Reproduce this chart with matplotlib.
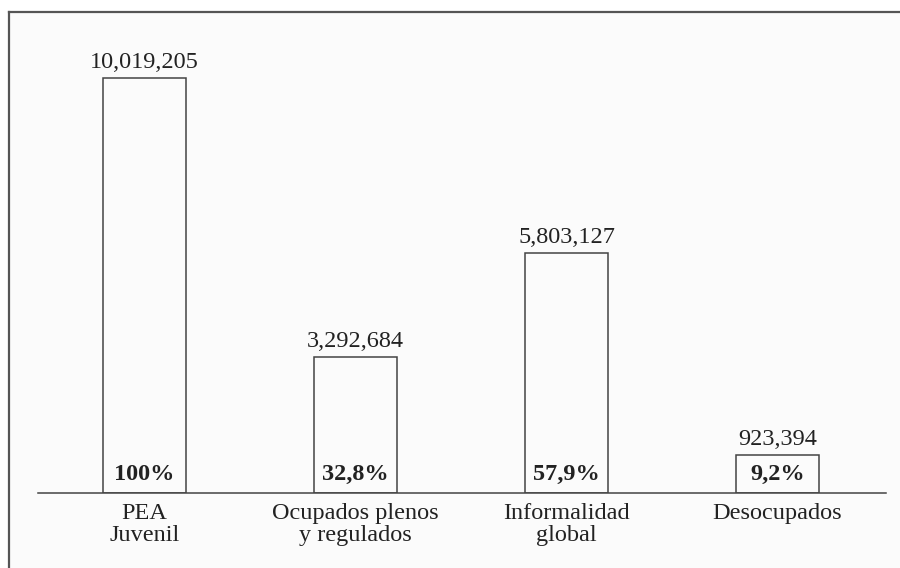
import matplotlib.pyplot as plt
from matplotlib.lines import Line2D
from matplotlib.patches import Rectangle

categorias = ["PEA\nJuvenil", "Ocupados plenos\ny regulados", "Informalidad\nglobal", "Desocupados"]
valores = [10019205, 3292684, 5803127, 923394]
porcentajes = ["100%", "32,8%", "57,9%", "9,2%"]

W, H = 900, 568
plt.rcParams['font.family'] = ['Liberation Serif', 'DejaVu Serif']

fig = plt.figure(figsize=(W / 100, H / 100), dpi=100)
fig.patch.set_facecolor('white')

# fondo gris muy claro y marco (solo arriba e izquierda, la imagen esta recortada)
fig.add_artist(Rectangle((9 / W, 0), 1 - 9 / W, 1 - 12 / H, transform=fig.transFigure,
                         facecolor='#fbfbfb', edgecolor='none', zorder=0))
fig.add_artist(Line2D([9 / W, 1], [1 - 12 / H, 1 - 12 / H], transform=fig.transFigure,
                      color='#555555', lw=1.6))
fig.add_artist(Line2D([9 / W, 9 / W], [0, 1 - 12 / H], transform=fig.transFigure,
                      color='#555555', lw=1.6))

ax = fig.add_axes([38 / W, 75 / H, (886 - 38) / W, (556 - 75) / H])
ax.set_facecolor('none')

x = range(len(categorias))
ax.bar(x, valores, width=0.393, facecolor='#fbfbfb', edgecolor='#444444', linewidth=1.1, zorder=2)

ax.set_xlim(-0.505, 3.514)
ax.set_ylim(0, 11.61e6)

for s in ['top', 'right', 'left']:
    ax.spines[s].set_visible(False)
ax.spines['bottom'].set_color('#444444')
ax.spines['bottom'].set_linewidth(1.1)
ax.spines['bottom'].set_zorder(3)

ax.set_yticks([])
ax.set_xticks(list(x))
ax.set_xticklabels(categorias, fontsize=17.5, color='#222222', linespacing=1.02)
ax.tick_params(axis='x', length=0, pad=7.5)

for i, v in enumerate(valores):
    ax.annotate(f"{v:,}", (i, v), xytext=(0, 7.2), textcoords='offset points',
                ha='center', va='baseline', fontsize=17.5, color='#222222')
    ax.annotate(porcentajes[i], (i, 0), xytext=(0, 9.4), textcoords='offset points',
                ha='center', va='baseline', fontsize=17.5, fontweight='bold', color='#222222', zorder=4)

fig.savefig('out.png', dpi=100, facecolor=fig.get_facecolor())
